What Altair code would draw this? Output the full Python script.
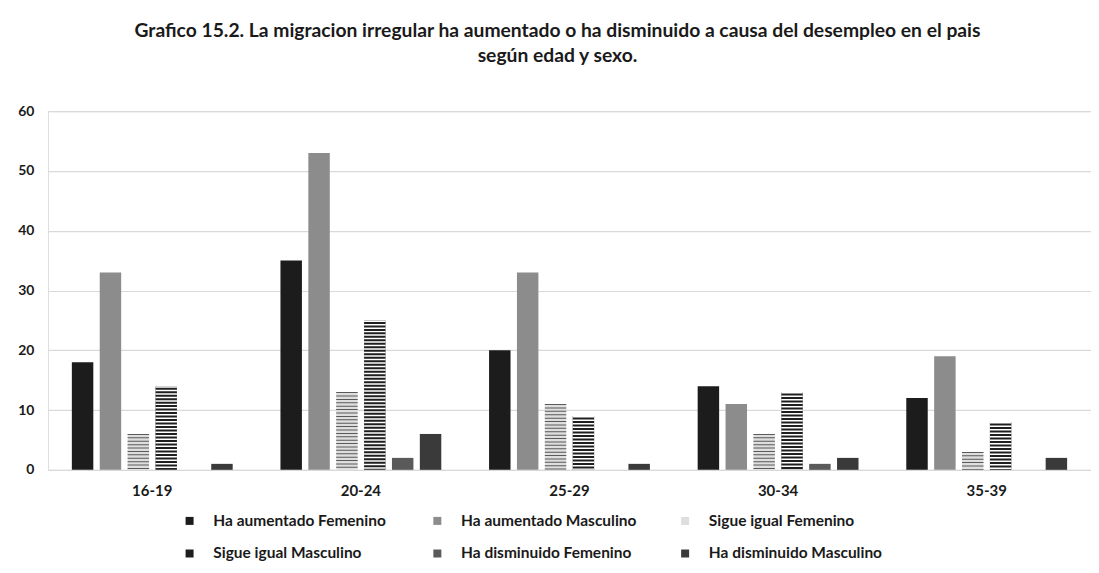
import altair as alt
import pandas as pd

grupos = ["16-19", "20-24", "25-29", "30-34", "35-39"]
series = [
    "Ha aumentado Femenino",
    "Ha aumentado Masculino",
    "Sigue igual Femenino",
    "Sigue igual Masculino",
    "Ha disminuido Femenino",
    "Ha disminuido Masculino",
]
ha_aumentado_femenino = [18, 35, 20, 14, 12]
ha_aumentado_masculino = [33, 53, 33, 11, 19]
sigue_igual_femenino = [6, 13, 11, 6, 3]
sigue_igual_masculino = [14, 25, 9, 13, 8]
ha_disminuido_femenino = [0, 2, 0, 1, 0]
ha_disminuido_masculino = [1, 6, 1, 2, 2]

valores = [
    ha_aumentado_femenino,
    ha_aumentado_masculino,
    sigue_igual_femenino,
    sigue_igual_masculino,
    ha_disminuido_femenino,
    ha_disminuido_masculino,
]

rows = []
for i, g in enumerate(grupos):
    for s, vals in zip(series, valores):
        rows.append({"grupo": g, "serie": s, "valor": vals[i]})
df = pd.DataFrame(rows)

colores = ["#1c1c1c", "#8c8c8c", "#dedede", "#1e1e1e", "#5a5a5a", "#3a3a3a"]
FONT = "Lato"

x_enc = alt.X(
    "grupo:N",
    sort=grupos,
    scale=alt.Scale(paddingInner=0.229, paddingOuter=0.1145),
    axis=alt.Axis(
        title=None, labelAngle=0, domain=False, ticks=False,
        labelPadding=14, labelFont=FONT, labelFontSize=15,
        labelFontWeight="bold", labelColor="#1a1a1a",
    ),
)
xo_enc = alt.XOffset(
    "serie:N", sort=series,
    scale=alt.Scale(domain=series, paddingInner=0.23, paddingOuter=0),
)
y_enc = alt.Y(
    "valor:Q",
    scale=alt.Scale(domain=[0, 60]),
    axis=alt.Axis(
        title=None, values=[0, 10, 20, 30, 40, 50, 60], domain=False,
        ticks=False, labelPadding=14, labelFont=FONT, labelFontSize=14,
        labelFontWeight="bold", labelColor="#1a1a1a",
        grid=True, gridColor="#d9d9d9", gridWidth=1.2,
    ),
)

base = alt.Chart(df)

barras = base.mark_bar().encode(
    x=x_enc,
    xOffset=xo_enc,
    y=y_enc,
    color=alt.Color(
        "serie:N",
        sort=series,
        scale=alt.Scale(domain=series, range=colores),
        legend=alt.Legend(
            title=None, orient="none", legendX=134, legendY=402,
            direction="horizontal", columns=3, gridAlign="all",
            symbolType="square", symbolSize=64,
            symbolStrokeWidth=0, labelFont=FONT, labelFontSize=15.5,
            labelFontWeight="bold", labelColor="#1a1a1a", labelLimit=300,
            rowPadding=16, columnPadding=40, labelOffset=16,
        ),
    ),
)

rayas_h = base.transform_filter(
    alt.datum.serie == "Sigue igual Masculino"
).mark_rule(color="white", strokeWidth=21.5, strokeDash=[1.5, 2]).encode(
    x=x_enc, xOffset=xo_enc, y="valor:Q", y2=alt.datum(0)
)

ladrillos = base.transform_filter(
    alt.datum.serie == "Sigue igual Femenino"
).mark_rule(color="#5a5a5a", strokeWidth=21.5, strokeDash=[1, 2.4]).encode(
    x=x_enc, xOffset=xo_enc, y="valor:Q", y2=alt.datum(0)
)

chart = alt.layer(barras, rayas_h, ladrillos).properties(
    width=1044,
    height=359,
    padding={"left": 40, "top": 103, "right": 0, "bottom": 95},
    autosize=alt.AutoSizeParams(type="none"),
    title=alt.TitleParams(
        text=[
            "Grafico 15.2. La migracion irregular ha aumentado o ha disminuido a causa del desempleo en el pais",
            "según edad y sexo.",
        ],
        font=FONT, fontSize=19.3, fontWeight="bold", color="#1a1a1a",
        anchor="middle", offset=38, lineHeight=25, dx=-12,
    ),
).configure_view(stroke=None).configure(background="white")

chart.save("out.html", embed_options={"renderer": "svg", "actions": False})
